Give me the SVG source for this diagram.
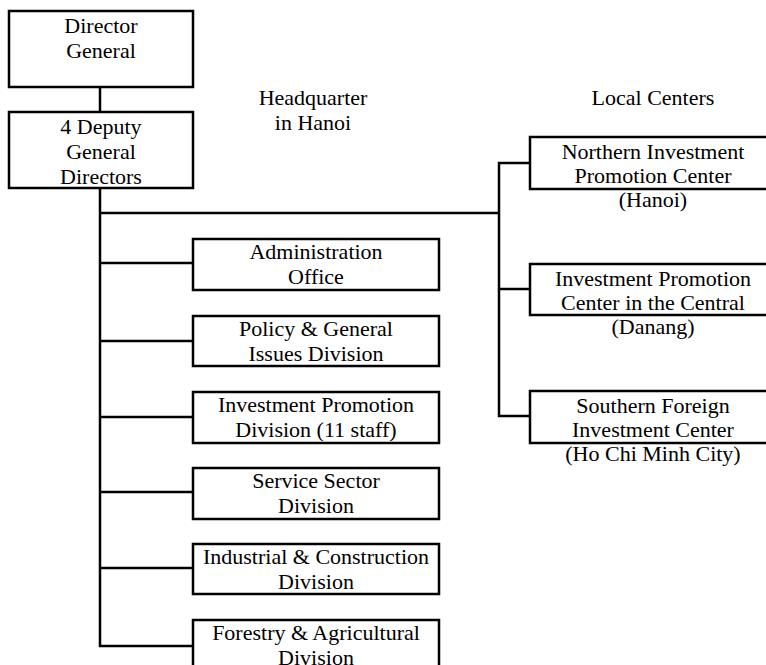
<svg xmlns="http://www.w3.org/2000/svg" width="766" height="665" viewBox="0 0 766 665">
<style>
.box{fill:#fff;stroke:#000;stroke-width:2.5}
.ln{fill:none;stroke:#000;stroke-width:2.5}
.t{font-family:'Liberation Serif', 'DejaVu Serif', serif;font-size:22px;fill:#000;text-anchor:middle}
</style>
<rect width="766" height="665" fill="#fff"/>
<g id="connectors">
<path class="ln" d="M100,87 V112"/>
<path class="ln" d="M100,188 V646 H193"/>
<path class="ln" d="M100,263 H193 M100,341 H193 M100,417 H193 M100,492 H193 M100,568 H193"/>
<path class="ln" d="M100,213 H499"/>
<path class="ln" d="M530,163 H499 V416 H530 M499,289 H530"/>
</g>
<g class="t">
<g id="label-hq"><text x="313" y="105">Headquarter</text><text x="313" y="130">in Hanoi</text></g>
<g id="label-local"><text x="653" y="105">Local Centers</text></g>
<g id="director-general"><rect class="box" x="9" y="11" width="184" height="76"/><text x="101" y="33">Director</text><text x="101" y="58">General</text></g>
<g id="deputy-directors"><rect class="box" x="9" y="112" width="184" height="76"/><text x="101" y="134">4 Deputy</text><text x="101" y="159">General</text><text x="101" y="184">Directors</text></g>
<g id="admin-office"><rect class="box" x="193" y="239" width="246" height="51"/><text x="316" y="259">Administration</text><text x="316" y="284">Office</text></g>
<g id="policy-division"><rect class="box" x="193" y="316" width="246" height="50"/><text x="316" y="336">Policy &amp; General</text><text x="316" y="361">Issues Division</text></g>
<g id="investment-promotion-division"><rect class="box" x="193" y="392" width="246" height="51"/><text x="316" y="412">Investment Promotion</text><text x="316" y="437">Division (11 staff)</text></g>
<g id="service-division"><rect class="box" x="193" y="468" width="246" height="51"/><text x="316" y="488">Service Sector</text><text x="316" y="513">Division</text></g>
<g id="industrial-division"><rect class="box" x="193" y="544" width="246" height="50"/><text x="316" y="564">Industrial &amp; Construction</text><text x="316" y="589">Division</text></g>
<g id="forestry-division"><rect class="box" x="193" y="620" width="246" height="51"/><text x="316" y="640">Forestry &amp; Agricultural</text><text x="316" y="665">Division</text></g>
<g id="northern-center"><rect class="box" x="530" y="137" width="246" height="52"/><text x="653" y="159">Northern Investment</text><text x="653" y="183">Promotion Center</text><text x="653" y="207">(Hanoi)</text></g>
<g id="central-center"><rect class="box" x="530" y="264" width="246" height="51"/><text x="653" y="286">Investment Promotion</text><text x="653" y="310">Center in the Central</text><text x="653" y="334">(Danang)</text></g>
<g id="southern-center"><rect class="box" x="530" y="391" width="246" height="52"/><text x="653" y="413">Southern Foreign</text><text x="653" y="437">Investment Center</text><text x="653" y="461">(Ho Chi Minh City)</text></g>
</g>
</svg>
